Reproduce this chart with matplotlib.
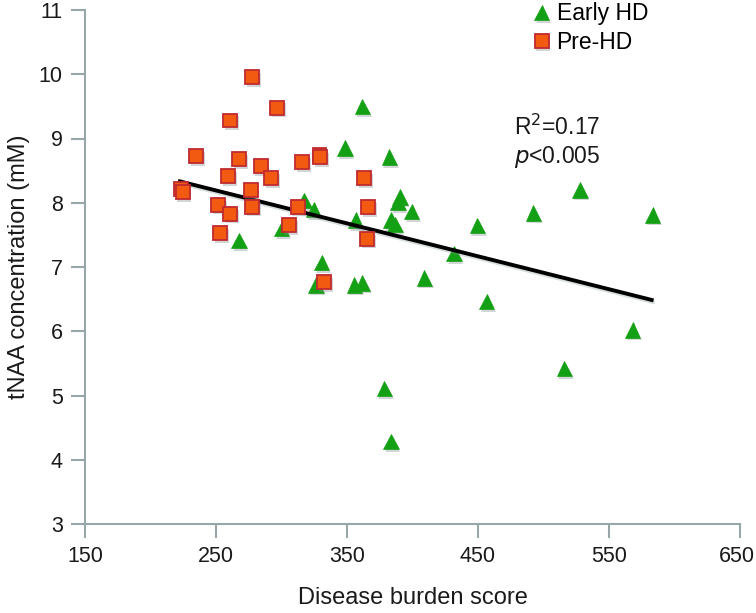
import matplotlib
matplotlib.use("Agg")
import matplotlib.pyplot as plt
import matplotlib.patheffects as pe
from matplotlib.transforms import ScaledTranslation

plt.rcParams['font.family'] = ['Liberation Sans', 'DejaVu Sans']

# Early HD (green triangles)
early_x = [361.7, 348.5, 382.3, 390.5, 389.0, 317.2, 324.6, 356.6, 383.6, 386.6,
           399.3, 267.6, 300.1, 330.6, 326.3, 355.6, 361.7, 449.5, 492.2, 527.9,
           583.3, 431.7, 409.0, 456.6, 568.0, 515.9, 378.5, 383.6]
early_y = [9.50, 8.85, 8.71, 8.09, 8.00, 8.03, 7.90, 7.73, 7.73, 7.66,
           7.86, 7.41, 7.60, 7.07, 6.72, 6.72, 6.75, 7.65, 7.84, 8.20,
           7.81, 7.21, 6.83, 6.46, 6.02, 5.42, 5.11, 4.28]

# Pre-HD (orange squares)
pre_x = [277.7, 296.8, 260.7, 234.7, 267.6, 284.1, 292.0, 315.9, 329.0, 329.5,
         259.4, 363.0, 223.5, 224.5, 276.5, 251.7, 277.7, 260.7, 312.3, 366.3,
         305.7, 253.0, 365.5, 332.4]
pre_y = [9.96, 9.48, 9.28, 8.73, 8.68, 8.57, 8.38, 8.63, 8.75, 8.71,
         8.41, 8.38, 8.22, 8.17, 8.20, 7.97, 7.94, 7.83, 7.94, 7.93,
         7.65, 7.53, 7.44, 6.76]

# Regression line endpoints
trend_x = [221.0, 584.0]
trend_y = [8.34, 6.48]

x_ticks = [150, 250, 350, 450, 550, 650]
y_ticks = [3, 4, 5, 6, 7, 8, 9, 10, 11]

W, H = 756, 613
fig = plt.figure(figsize=(W / 100, H / 100), dpi=100)
ax = fig.add_axes([85 / W, 1 - 524 / H, (740 - 85) / W, (524 - 10) / H])

axis_col = '#97a6a8'
shadow = [pe.SimplePatchShadow(offset=(1.2, -2.0), shadow_rgbFace='#7f8c8c', alpha=0.35), pe.Normal()]

ax.plot(trend_x, trend_y, color='black', lw=2.8, solid_capstyle='butt', zorder=3,
        path_effects=[pe.SimpleLineShadow(offset=(0.8, -1.5), shadow_color='#7f9090', alpha=0.3), pe.Normal()])

ax.plot(early_x, early_y, linestyle='none', marker='^', markersize=11,
        markerfacecolor='#14a014', markeredgecolor='#14a014', markeredgewidth=0.5,
        label='Early HD', zorder=2, path_effects=shadow)
ax.plot(pre_x, pre_y, linestyle='none', marker='s', markersize=10,
        markerfacecolor='#f25a12', markeredgecolor='#c02a30', markeredgewidth=1.3,
        label='Pre-HD', zorder=4, path_effects=shadow)

ax.set_xlim(150, 650)
ax.set_ylim(3, 11)
ax.set_xticks(x_ticks)
ax.set_yticks(y_ticks)
ax.tick_params(axis='both', direction='out', length=10, width=1.5, color=axis_col,
               labelsize=15.5, labelcolor='#1a1a1a', pad=6)
for s in ['top', 'right']:
    ax.spines[s].set_visible(False)
for s in ['left', 'bottom']:
    ax.spines[s].set_color(axis_col)
    ax.spines[s].set_linewidth(1.5)

# keep the last x tick label inside the figure, as in the reference
last = ax.get_xticklabels()[-1]
last.set_transform(last.get_transform() + ScaledTranslation(-3 / 100, 0, fig.dpi_scale_trans))

ax.set_xlabel('Disease burden score', fontsize=17, color='#1a1a1a', labelpad=14)
ax.set_ylabel('tNAA concentration (mM)', fontsize=17, color='#1a1a1a', labelpad=6)

leg = ax.legend(loc='upper left', bbox_to_anchor=(521 / W, 1 - (-7) / H),
                bbox_transform=fig.transFigure, frameon=False, fontsize=16.5,
                handlelength=1.0, handletextpad=0.15, labelspacing=0.25, borderaxespad=0)

fig.text(514 / W, 1 - 127 / H, 'R$^2$=0.17', fontsize=16.5, va='center', ha='left', color='#1a1a1a')
fig.text(514 / W, 1 - 157 / H, '$p$<0.005', fontsize=16.5, va='center', ha='left', color='#1a1a1a')

fig.savefig('out.png', dpi=100)
